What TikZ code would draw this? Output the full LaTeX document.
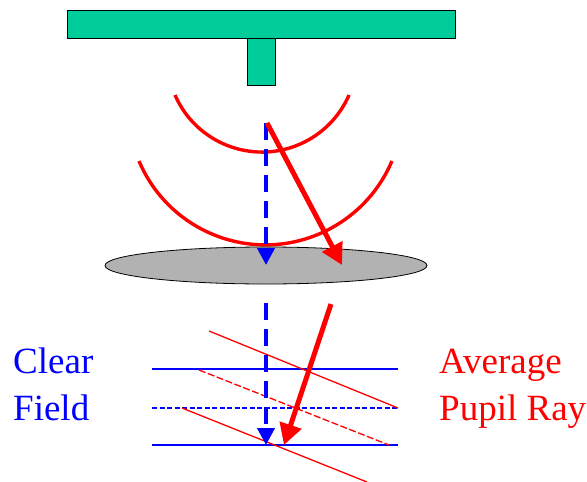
\documentclass[tikz,border=0pt]{standalone}
\usepackage{fontspec}
\setmainfont{Liberation Serif}
\usetikzlibrary{arrows.meta,shapes.geometric}
\definecolor{bargreen}{HTML}{00CC99}
\definecolor{lensgray}{HTML}{B2B2B2}
\definecolor{rayred}{HTML}{FF0000}
\definecolor{fieldblue}{RGB}{0,0,255}
\tikzset{
  x=1pt,y=-1pt,
  bar/.style={draw=black,line width=0.8pt,fill=bargreen},
  wave/.style={draw=rayred,line width=3.4pt},
  bluedash/.style={draw=fieldblue,line width=4pt,dash pattern=on 17pt off 9pt,-{Triangle[length=17pt,width=17pt,fill=fieldblue]}},
  redarrow/.style={draw=rayred,line width=5pt,-{Triangle[length=21pt,width=22pt,fill=rayred]}},
  fieldline/.style={color=fieldblue,line width=1.1pt},
  rayline/.style={color=rayred,line width=1.3pt},
  bigtext/.style={anchor=base west,font=\fontsize{37}{37}\selectfont,inner sep=0pt}
}
\begin{document}
\begin{tikzpicture}
\useasboundingbox (0,0) rectangle (587,482);
\node[bar,minimum width=388pt,minimum height=28pt,inner sep=0pt,anchor=north west] (top) at (67,10) {};
\node[bar,minimum width=28pt,minimum height=47pt,inner sep=0pt,anchor=north west] (stem) at (247,38) {};
\draw[wave] (175,95) arc[start angle=203.5,end angle=336.5,x radius=94.9pt,y radius=94.9pt];
\draw[wave] (139,161) arc[start angle=202.9,end angle=337.1,x radius=137.3pt,y radius=137.3pt];
\node[draw=black,line width=0.8pt,fill=lensgray,ellipse,minimum width=322pt,minimum height=37pt,inner sep=0pt] (lens) at (266,265.5) {};
\coordinate (b1) at (266,123); \coordinate (b2) at (266,265);
\coordinate (r1) at (267,123); \coordinate (r2) at (342,265);
\coordinate (b3) at (266,303); \coordinate (b4) at (266,445);
\coordinate (r3) at (331,304); \coordinate (r4) at (284,445);
\coordinate (fa1) at (152,369); \coordinate (fa2) at (398,369);
\coordinate (fb1) at (152,408); \coordinate (fb2) at (398,408);
\coordinate (fc1) at (152,445); \coordinate (fc2) at (398,445);
\coordinate (la1) at (209,331); \coordinate (la2) at (398,408);
\coordinate (lb1) at (199,370); \coordinate (lb2) at (389,445);
\coordinate (lc1) at (182,408); \coordinate (lc2) at (367,482);
\draw[fieldline] (fa1) -- (fa2);
\draw[fieldline,dash pattern=on 5pt off 2.5pt] (fb1) -- (fb2);
\draw[fieldline] (fc1) -- (fc2);
\draw[rayline] (la1) -- (la2);
\draw[rayline,dash pattern=on 7pt off 2.5pt] (lb1) -- (lb2);
\draw[rayline] (lc1) -- (lc2);
\draw[bluedash] (b1) -- (b2);
\draw[bluedash] (b3) -- (b4);
\draw[redarrow] (r1) -- (r2);
\draw[redarrow] (r3) -- (r4);
\node[bigtext,text=fieldblue] (clear) at (13,373) {Clear};
\node[bigtext,text=fieldblue] (field) at (13,420) {Field};
\node[bigtext,text=rayred] (average) at (439,373) {Average};
\node[bigtext,text=rayred] (pupil) at (439,420) {Pupil Ray};
\end{tikzpicture}
\end{document}
